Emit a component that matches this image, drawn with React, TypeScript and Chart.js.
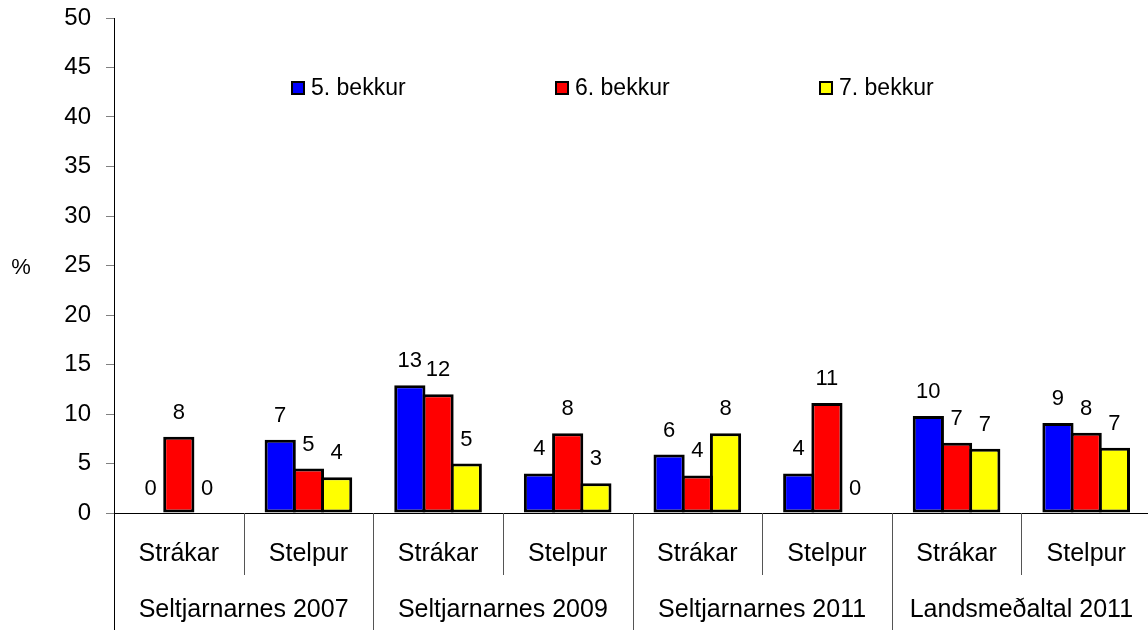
import React, { useEffect, useRef } from 'react';
import { Chart, registerables } from 'chart.js';

Chart.register(...registerables);

const FONT = '"Liberation Sans", Arial, Helvetica, sans-serif';

const categories = ['Strákar', 'Stelpur', 'Strákar', 'Stelpur', 'Strákar', 'Stelpur', 'Strákar', 'Stelpur'];
const groupLabels = ['Seltjarnarnes 2007', 'Seltjarnarnes 2009', 'Seltjarnarnes 2011', 'Landsmeðaltal 2011'];
const seriesLabels = ['5. bekkur', '6. bekkur', '7. bekkur'];
const grade5 = [0, 7.4, 12.9, 4.0, 5.9, 4.0, 9.8, 9.1];
const grade6 = [7.7, 4.5, 12.0, 8.05, 3.8, 11.1, 7.1, 8.1];
const grade7 = [0, 3.6, 5.0, 3.0, 8.05, 0, 6.5, 6.6];
const seriesColors = ['#0000FF', '#FF0000', '#FFFF00'];
const yMin = 0;
const yMax = 50;
const yStep = 5;
const yAxisTitle = '%';

const overlay = {
  id: 'overlay',
  afterDatasetsDraw(chart: any) {
    const ctx = chart.ctx;
    ctx.save();
    ctx.font = `22px ${FONT}`;
    ctx.fillStyle = '#000';
    ctx.textAlign = 'center';
    ctx.textBaseline = 'middle';
    chart.data.datasets.forEach((ds: any, i: number) => {
      const meta = chart.getDatasetMeta(i);
      meta.data.forEach((bar: any, j: number) => {
        const v = ds.data[j];
        ctx.fillText(String(Math.round(v)), bar.x, bar.y - 24);
      });
    });
    ctx.restore();
  },
  afterDraw(chart: any) {
    const ctx = chart.ctx;
    const area = chart.chartArea;
    const xs = chart.scales.x;
    const n = categories.length;
    const cw = xs.getPixelForValue(1) - xs.getPixelForValue(0);
    const left = xs.getPixelForValue(0) - cw / 2;
    const H = chart.height;
    ctx.save();
    // category dividers
    for (let k = 0; k <= n; k++) {
      const x = Math.round(left + k * cw) + 0.5;
      const isGroup = k % 2 === 0;
      ctx.strokeStyle = k === 0 ? '#000' : '#555';
      ctx.lineWidth = 1;
      ctx.beginPath();
      ctx.moveTo(x, area.bottom);
      ctx.lineTo(x, isGroup ? H : area.bottom + 62);
      ctx.stroke();
    }
    // group labels
    ctx.font = `25px ${FONT}`;
    ctx.fillStyle = '#000';
    ctx.textAlign = 'center';
    ctx.textBaseline = 'middle';
    groupLabels.forEach((g, i) => {
      const cx = (xs.getPixelForValue(2 * i) + xs.getPixelForValue(2 * i + 1)) / 2;
      ctx.fillText(g, cx, 610);
    });
    // y axis title
    ctx.font = `22px ${FONT}`;
    ctx.fillText(yAxisTitle, 21, (area.top + area.bottom) / 2 + 2);
    // legend
    ctx.textAlign = 'left';
    ctx.font = `23px ${FONT}`;
    chart.data.datasets.forEach((ds: any, i: number) => {
      const x0 = area.left + 178 + i * 264;
      const cy = 88;
      ctx.fillStyle = ds.backgroundColor;
      ctx.fillRect(x0, cy - 6, 12, 12);
      ctx.strokeStyle = '#000';
      ctx.lineWidth = 2;
      ctx.strokeRect(x0, cy - 6, 12, 12);
      ctx.fillStyle = '#000';
      ctx.fillText(ds.label, x0 + 19, cy + 1);
    });
    ctx.restore();
  },
};

export default function App() {
  const ref = useRef<HTMLCanvasElement>(null);
  useEffect(() => {
    const canvas = ref.current!;
    const chart = new Chart(canvas, {
      type: 'bar',
      data: {
        labels: categories,
        datasets: [grade5, grade6, grade7].map((d, i) => ({
          label: seriesLabels[i],
          data: d,
          backgroundColor: seriesColors[i],
          borderColor: '#000',
          borderWidth: 3,
          borderSkipped: false,
          categoryPercentage: 0.653,
          barPercentage: 1.106,
        })),
      },
      options: {
        responsive: false,
        animation: false,
        devicePixelRatio: 1,
        layout: { autoPadding: false, padding: { top: 18, left: 0, right: 0, bottom: 0 } },
        plugins: { legend: { display: false }, tooltip: { enabled: false } },
        scales: {
          x: {
            grid: { display: false },
            border: { display: true, color: '#000', width: 1 },
            ticks: {
              color: '#000',
              font: { family: FONT, size: 25 },
              padding: 18,
              maxRotation: 0,
              autoSkip: false,
            },
            afterFit: (s: any) => {
              s.height = 117;
              s.paddingLeft = 0;
              s.paddingRight = 0;
            },
          },
          y: {
            min: yMin,
            max: yMax,
            grid: {
              display: true,
              drawOnChartArea: false,
              drawTicks: true,
              tickLength: 8,
              tickColor: '#808080',
            },
            border: { display: true, color: '#000', width: 1 },
            ticks: {
              stepSize: yStep,
              color: '#000',
              font: { family: FONT, size: 24 },
              padding: 15,
            },
            afterFit: (s: any) => {
              s.width = 114;
              s.paddingTop = 0;
              s.paddingBottom = 0;
            },
          },
        },
      },
      plugins: [overlay],
    } as any);
    return () => chart.destroy();
  }, []);
  return (
    <div
      style={{
        position: 'fixed',
        left: 0,
        top: 0,
        width: 1148,
        height: 630,
        overflow: 'hidden',
        background: '#fff',
      }}
    >
      <canvas ref={ref} width={1151} height={630} style={{ display: 'block', width: 1151, height: 630 }} />
    </div>
  );
}
